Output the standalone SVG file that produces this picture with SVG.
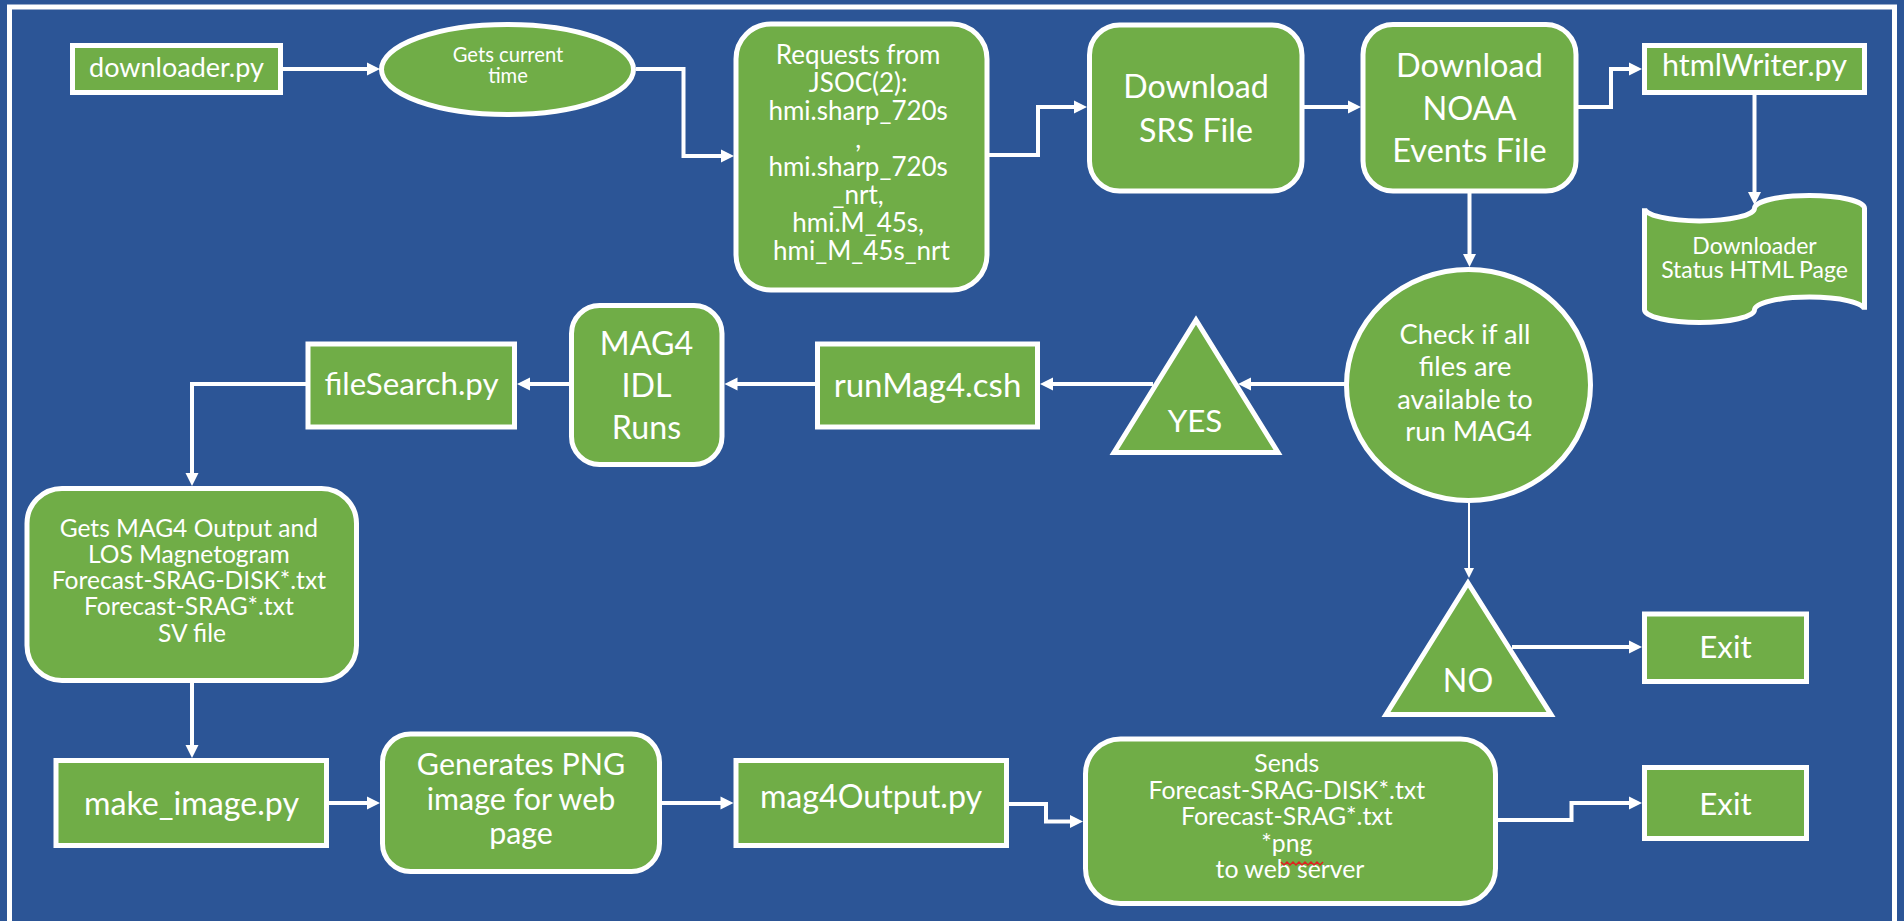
<svg xmlns="http://www.w3.org/2000/svg" width="1904" height="921" viewBox="0 0 1904 921">
<defs>
<style>
.n{fill:#70AD47;stroke:#FFFFFF;stroke-width:5}
.t{font-family:Lato,"Liberation Sans",sans-serif;fill:#FFFFFF;text-anchor:middle}
.c{fill:none;stroke:#FFFFFF;stroke-width:4;marker-end:url(#arr)}
.cs{fill:none;stroke:#FFFFFF;stroke-width:2;marker-end:url(#arrS)}
</style>
<marker id="arr" markerUnits="userSpaceOnUse" markerWidth="13" markerHeight="14" refX="4" refY="6.5" orient="auto" overflow="visible">
<path d="M0,0 L13,6.5 L0,13 Z" fill="#FFFFFF"/>
</marker>
<marker id="arrS" markerUnits="userSpaceOnUse" markerWidth="10" markerHeight="10" refX="3" refY="5" orient="auto" overflow="visible">
<path d="M0,0 L10,5 L0,10 Z" fill="#FFFFFF"/>
</marker>
</defs>
<rect x="0" y="0" width="1904" height="921" fill="#2C5596"/>
<rect x="9.5" y="7" width="1885" height="960" fill="none" stroke="#FFFFFF" stroke-width="5"/>

<g id="connectors">
<path class="c" d="M283,69 H371"/>
<path class="c" d="M636,69 H683.5 V156 H725"/>
<path class="c" d="M989,155 H1038 V107 H1078"/>
<path class="c" d="M1304,107 H1352"/>
<path class="c" d="M1578,107 H1611 V69 H1633"/>
<path class="c" d="M1754.5,95 V196"/>
<path class="c" d="M1469.5,193 V258"/>
<path class="c" d="M1345,384 H1247"/>
<path class="c" d="M1153,384 H1049"/>
<path class="c" d="M815,384 H733.5"/>
<path class="c" d="M569,384 H526"/>
<path class="c" d="M306,384 H192 V477"/>
<path class="c" d="M192,683 V749"/>
<path class="c" d="M329,803 H371"/>
<path class="c" d="M662,803 H724.5"/>
<path class="c" d="M1009,804 H1046 V821.5 H1074"/>
<path class="c" d="M1498,820 H1571.5 V803 H1633"/>
<path class="cs" d="M1469,503 V571"/>
<path class="c" d="M1512,647 H1633"/>
</g>

<g id="downloader">
<rect class="n" x="72.5" y="45.5" width="208" height="47"/>
<text class="t" x="176.5" y="77" font-size="27">downloader.py</text>
</g>
<g id="getsTime">
<ellipse class="n" cx="507.5" cy="69.5" rx="126" ry="45"/>
<text class="t" font-size="20.2"><tspan x="508" y="62">Gets current</tspan><tspan x="508" y="83">time</tspan></text>
</g>
<g id="requests">
<rect class="n" x="736" y="24" width="251" height="266" rx="35"/>
<text class="t" font-size="26">
<tspan x="861.5" y="64">Requests from</tspan>
<tspan x="861.5" y="92">JSOC(2):</tspan>
<tspan x="861.5" y="120">hmi.sharp_720s</tspan>
<tspan x="861.5" y="148">,</tspan>
<tspan x="861.5" y="176">hmi.sharp_720s</tspan>
<tspan x="861.5" y="204">_nrt,</tspan>
<tspan x="861.5" y="232">hmi.M_45s,</tspan>
<tspan x="861.5" y="260">hmi_M_45s_nrt</tspan>
</text>
</g>
<g id="srs">
<rect class="n" x="1089.5" y="25" width="212.5" height="166" rx="30"/>
<text class="t" font-size="32.2"><tspan x="1196" y="98">Download</tspan><tspan x="1196" y="142">SRS File</tspan></text>
</g>
<g id="noaa">
<rect class="n" x="1363" y="24.5" width="213" height="166.5" rx="30"/>
<text class="t" font-size="32.5"><tspan x="1469.5" y="77">Download</tspan><tspan x="1469.5" y="119.5">NOAA</tspan><tspan x="1469.5" y="162">Events File</tspan></text>
</g>
<g id="htmlWriter">
<rect class="n" x="1644.5" y="45.5" width="220" height="47"/>
<text class="t" x="1754.5" y="76" font-size="30.5">htmlWriter.py</text>
</g>
<g id="statusPage">
<path class="n" d="M1644.5,208.2 A55,12.7 0 0 0 1754.5,208.2 A55,12.7 0 0 1 1864.5,208.2 L1864.5,309.8 A55,12.7 0 0 0 1754.5,309.8 A55,12.7 0 0 1 1644.5,309.8 Z"/>
<text class="t" font-size="23"><tspan x="1754.5" y="254">Downloader</tspan><tspan x="1754.5" y="278">Status HTML Page</tspan></text>
</g>
<g id="check">
<ellipse class="n" cx="1468.5" cy="385" rx="122" ry="115.5"/>
<text class="t" font-size="27.3">
<tspan x="1468.5" y="343.5">Check if all</tspan>
<tspan x="1468.5" y="376">files are</tspan>
<tspan x="1468.5" y="408.5">available to</tspan>
<tspan x="1468.5" y="441">run MAG4</tspan>
</text>
</g>
<g id="yes">
<path class="n" d="M1196,320 L1278,452.5 L1114,452.5 Z"/>
<text class="t" x="1195" y="431.5" font-size="31.3">YES</text>
</g>
<g id="runMag4">
<rect class="n" x="817.5" y="344" width="220" height="83"/>
<text class="t" x="927.5" y="396.5" font-size="33">runMag4.csh</text>
</g>
<g id="mag4idl">
<rect class="n" x="571.5" y="305.5" width="150.5" height="159" rx="28"/>
<text class="t" font-size="32.2"><tspan x="646.5" y="355">MAG4</tspan><tspan x="646.5" y="397">IDL</tspan><tspan x="646.5" y="439">Runs</tspan></text>
</g>
<g id="fileSearch">
<rect class="n" x="308" y="344" width="206.5" height="83"/>
<text class="t" x="411.5" y="395" font-size="31.3">fileSearch.py</text>
</g>
<g id="getsOutput">
<rect class="n" x="27" y="488.5" width="329.5" height="192" rx="35"/>
<text class="t" font-size="24.6">
<tspan x="192" y="537">Gets MAG4 Output and</tspan>
<tspan x="192" y="563">LOS Magnetogram</tspan>
<tspan x="192" y="589">Forecast-SRAG-DISK*.txt</tspan>
<tspan x="192" y="615">Forecast-SRAG*.txt</tspan>
<tspan x="192" y="641.5">SV file</tspan>
</text>
</g>
<g id="makeImage">
<rect class="n" x="56" y="760.5" width="270.5" height="85"/>
<text class="t" x="191.5" y="815" font-size="32.2">make_image.py</text>
</g>
<g id="generates">
<rect class="n" x="382.5" y="734" width="277" height="137.5" rx="28"/>
<text class="t" font-size="30.4"><tspan x="521" y="775">Generates PNG</tspan><tspan x="521" y="809.5">image for web</tspan><tspan x="521" y="843.5">page</tspan></text>
</g>
<g id="mag4Output">
<rect class="n" x="736" y="760.5" width="270.5" height="85"/>
<text class="t" x="871" y="808" font-size="32.2">mag4Output.py</text>
</g>
<g id="sends">
<rect class="n" x="1085.5" y="739" width="410" height="164.5" rx="35"/>
<text class="t" font-size="24.8">
<tspan x="1290" y="772">Sends</tspan>
<tspan x="1290" y="798.5">Forecast-SRAG-DISK*.txt</tspan>
<tspan x="1290" y="825">Forecast-SRAG*.txt</tspan>
<tspan x="1290" y="851.5">*png</tspan>
<tspan x="1290" y="878">to web server</tspan>
</text>
<path d="M1281,862 l3,3 l3,-3 l3,3 l3,-3 l3,3 l3,-3 l3,3 l3,-3 l3,3 l3,-3 l3,3 l3,-3 l3,3 l3,-3" fill="none" stroke="#E02020" stroke-width="1.5"/>
</g>
<g id="exitBottom">
<rect class="n" x="1644.5" y="767.5" width="162" height="71"/>
<text class="t" x="1725.5" y="815" font-size="31.3">Exit</text>
</g>
<g id="no">
<path class="n" d="M1468,583 L1551,714.5 L1386,714.5 Z"/>
<text class="t" x="1468" y="692" font-size="32.2">NO</text>
</g>
<g id="exitTop">
<rect class="n" x="1644.5" y="614" width="162" height="67.5"/>
<text class="t" x="1725.5" y="658" font-size="31.3">Exit</text>
</g>
</svg>
